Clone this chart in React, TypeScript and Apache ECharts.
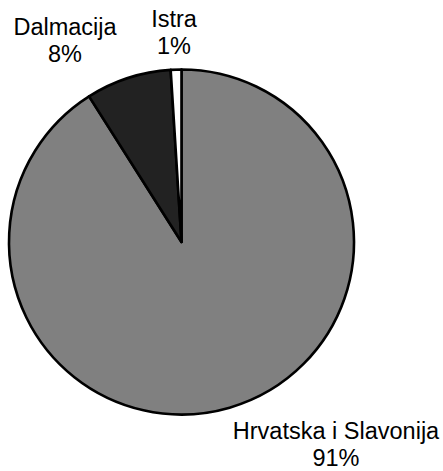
import React, { useEffect, useRef } from "react";
import * as echarts from "echarts";

const categories = ["Hrvatska i Slavonija", "Dalmacija", "Istra"];
const values = [91, 8, 1];
const colors = ["#808080", "#222222", "#ffffff"];

export default function App() {
  const ref = useRef<HTMLDivElement>(null);
  useEffect(() => {
    if (!ref.current) return;
    const chart = echarts.init(ref.current, null, { renderer: "svg" });
    const labelPos = [
      { x: 336, y: 444 },
      { x: 65, y: 40 },
      { x: 174, y: 32 },
    ];
    const total = values.reduce((a, b) => a + b, 0);
    chart.setOption({
      animation: false,
      backgroundColor: "#ffffff",
      graphic: categories.map((name, i) => ({
        type: "text",
        x: labelPos[i].x,
        y: labelPos[i].y,
        style: {
          text: name + "\n" + Math.round((values[i] / total) * 100) + "%",
          fontFamily: "Liberation Sans, Arial, Helvetica, sans-serif",
          fontSize: 23.5,
          lineHeight: 27,
          fill: "#000000",
          align: "center",
          verticalAlign: "middle",
        },
      })),
      series: [
        {
          type: "pie",
          center: [181.5, 242],
          radius: 172.5,
          startAngle: 90,
          clockwise: true,
          data: categories.map((name, i) => ({
            name,
            value: values[i],
            itemStyle: { color: colors[i] },
          })),
          itemStyle: { borderColor: "#000000", borderWidth: 2.6 },
          emphasis: { disabled: true },
          label: { show: false },
          labelLine: { show: false },
        },
      ],
    });
    return () => chart.dispose();
  }, []);
  return (
    <div
      ref={ref}
      style={{ position: "fixed", left: 0, top: 0, width: 443, height: 471 }}
    />
  );
}
